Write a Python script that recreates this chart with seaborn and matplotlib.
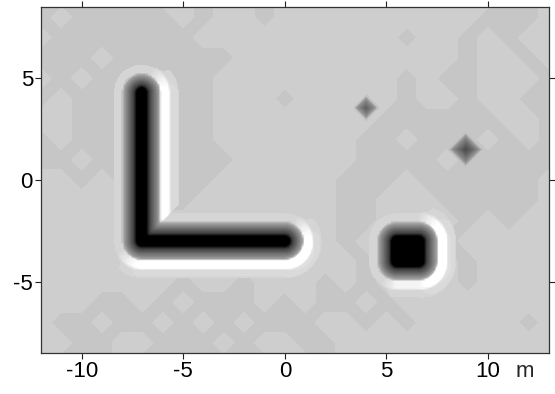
import numpy as np
import matplotlib
matplotlib.use("Agg")
import matplotlib.pyplot as plt
from matplotlib.colors import Normalize
import seaborn as sns

# L-shaped pipe, centre line (m)
pipe_x = [-7.05, -7.05, 0.0]
pipe_y = [4.3, -3.0, -3.0]

# square block: centre and half size (m)
block_x = 6.05
block_y = -3.5
block_half = [0.55, 0.5]

# small point targets
spot_x = [4.0, 8.9]
spot_y = [3.55, 1.5]
spot_depth = [-5.5, -6.5]
spot_reach = [0.65, 0.85]

# reading across the pipe: distance from centre (m) -> value
profile_d = [0.0, 0.27, 0.41, 0.66, 0.90, 0.94, 0.97]
profile_v = [-14.0, -10.0, -6.9, -4.5, -2.1, -1.6, 0.0]
# bright rim outside the dark halo (relative strength)
rim_d = [0.90, 0.97, 1.30, 1.40, 1.75, 1.85]
rim_v = [0.0, 1.0, 1.0, 0.25, 0.2, 0.0]

# background texture on 1 m nodes, x = -13..13, rows from y = 9 down to y = -9
# 0 = darker patch, 1 = lighter patch
bg_rows = [
    "000000011" "011011111" "111111001",
    "001000001" "011011111" "111110001",
    "010000000" "111111111" "101101011",
    "000010000" "001111111" "111101101",
    "010100000" "011111111" "101001110",
    "001000000" "011101111" "101101100",
    "011000000" "011111111" "000000110",
    "001000000" "011111110" "010001010",
    "000100000" "001111110" "000100000",
    "111010000" "011111100" "010000001",
    "111111000" "111111100" "111000001",
    "111111111" "111111100" "111101011",
    "111111111" "111111101" "111011111",
    "111111111" "111111110" "111101111",
    "111111110" "110111010" "111101111",
    "111100101" "000101001" "011111111",
    "110010010" "101000110" "101111101",
    "111001100" "010110011" "111111111",
    "110101011" "101011011" "111111111",
]


def nearest_offset(X, Y, xs, ys):
    """offset vector from the nearest point of a polyline"""
    best_d = None
    for x0, y0, x1, y1 in zip(xs[:-1], ys[:-1], xs[1:], ys[1:]):
        dx, dy = x1 - x0, y1 - y0
        t = np.clip(((X - x0) * dx + (Y - y0) * dy) / (dx * dx + dy * dy), 0, 1)
        vx, vy = X - (x0 + t * dx), Y - (y0 + t * dy)
        d = np.hypot(vx, vy)
        if best_d is None:
            best_d, best_vx, best_vy = d, vx, vy
        else:
            m = d < best_d
            best_d = np.where(m, d, best_d)
            best_vx = np.where(m, vx, best_vx)
            best_vy = np.where(m, vy, best_vy)
    return best_vx, best_vy


def response(vx, vy, side):
    """dark core with a bright rim, brighter on one side"""
    d = np.hypot(vx, vy)
    sx, sy = np.array(side) / np.hypot(*side)
    dot = (vx * sx + vy * sy) / np.maximum(d, 1e-6)
    core = np.interp(d, profile_d, profile_v, right=0.0)
    amp = np.clip(1.2 + 2.4 * dot, 0.4, None)
    rim = amp * np.interp(d, rim_d, rim_v, left=0.0, right=0.0)
    return core + rim


# fine grid for the targets
gx = np.arange(-12.5, 13.51, 0.1)
gy = np.arange(-9.0, 9.01, 0.1)
X, Y = np.meshgrid(gx, gy)

vx, vy = nearest_offset(X, Y, pipe_x, pipe_y)
field = response(vx, vy, (1, -1))

bx = np.sign(X - block_x) * np.maximum(np.abs(X - block_x) - block_half[0], 0)
by = np.sign(Y - block_y) * np.maximum(np.abs(Y - block_y) - block_half[1], 0)
field += response(bx, by, (1, -0.3))

for sx, sy, dep, r in zip(spot_x, spot_y, spot_depth, spot_reach):
    l1 = np.abs(X - sx) + np.abs(Y - sy)
    field += dep * np.sqrt(np.clip(1 - l1 / r, 0, None))

# coarse background grid
cx = np.arange(-13, 14)
cy = np.arange(9, -10, -1)
bg = np.array([[int(c) for c in row] for row in bg_rows])

sns.set_style("ticks")
plt.rcParams['font.family'] = ['Liberation Sans', 'DejaVu Sans']
plt.rcParams['axes.unicode_minus'] = False

fig = plt.figure(figsize=(5.55, 3.94), dpi=100)
ax = fig.add_axes([41 / 555, 41 / 394, 508 / 555, 346 / 394])

cmap = sns.blend_palette(["black", "white"], as_cmap=True)
norm = Normalize(vmin=-10, vmax=2.5)

ax.contourf(cx, cy, bg, levels=[-0.5, 0.5, 1.5], colors=["#c6c6c6", "#cecece"])
neg_levels = [-60] + list(np.arange(-10, -0.3, 0.25)) + [-0.3]
pos_levels = list(np.arange(0.3, 2.5, 0.25)) + [2.5, 60]
ax.contourf(X, Y, field, levels=neg_levels, cmap=cmap, norm=norm)
ax.contourf(X, Y, field, levels=pos_levels, cmap=cmap, norm=norm)

ax.set_xlim(-12, 13)
ax.set_ylim(-8.5, 8.5)
ax.set_xticks([-10, -5, 0, 5, 10])
ax.set_yticks([-5, 0, 5])
ax.tick_params(direction='out', length=4.3, width=0.8, pad=1.5,
               labelsize=16, color='#222222', labelcolor='black',
               top=True, right=True, labeltop=False, labelright=False)
for sp in ax.spines.values():
    sp.set_linewidth(0.9)
    sp.set_color('#333333')

ax.annotate('m', xy=(11.8, 0), xycoords=('data', 'axes fraction'),
            xytext=(0, -5.8), textcoords='offset points',
            ha='center', va='top', fontsize=16)

fig.savefig('out.png', dpi=100)
